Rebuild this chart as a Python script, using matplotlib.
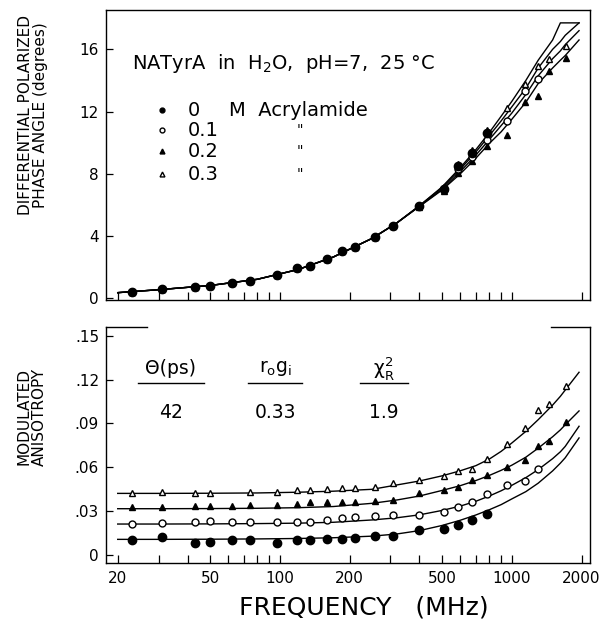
import numpy as np
import matplotlib
matplotlib.use("Agg")
import matplotlib.pyplot as plt
from matplotlib.ticker import NullFormatter, FixedLocator

plt.rcParams['font.family'] = ['DejaVu Sans']
plt.rcParams['mathtext.default'] = 'regular'

nan = np.nan

# measurement frequencies (MHz)
freq = [23, 31, 43, 50, 62, 74, 97, 119, 135, 159, 185, 211, 257, 309, 398,
        510, 584, 674, 782, 950, 1138, 1298, 1440, 1706]

# top panel: differential polarized phase angle (degrees)
phase_00 = [0.43, 0.58, 0.75, 0.82, 1.01, 1.14, 1.48, 1.95, 2.10, 2.55, 3.05, 3.32, 3.95, 4.62, 5.95,
            7.00, 8.50, 9.35, 10.6, nan, nan, nan, nan, nan]
phase_01 = [0.43, 0.58, 0.75, 0.82, 1.01, 1.14, 1.48, 1.95, 2.10, 2.55, 3.05, 3.32, 3.95, 4.62, 5.90,
            6.95, 8.30, 9.10, 10.2, 11.4, 13.3, 14.1, nan, nan]
phase_02 = [0.43, 0.58, 0.75, 0.82, 1.01, 1.14, 1.48, 1.95, 2.10, 2.55, 3.05, 3.32, 3.95, 4.62, 5.85,
            6.90, 8.05, 8.85, 9.80, 10.5, 12.6, 13.0, 14.6, 15.45]
phase_03 = [0.43, 0.58, 0.75, 0.82, nan, 1.14, 1.48, 1.95, 2.10, 2.55, 3.05, 3.32, 3.95, 4.70, 6.00,
            7.15, 8.60, 9.55, 10.8, 12.2, 13.75, 14.9, 15.35, 16.2]

# bottom panel: modulated anisotropy
aniso_00 = [0.0098, 0.0121, 0.0080, 0.0084, 0.0103, 0.0103, 0.0080, 0.0103, 0.0103, 0.0107, 0.0107, 0.0116,
            0.0126, 0.0126, 0.0167, 0.0176, 0.0205, 0.0240, 0.0281, nan, nan, nan, nan, nan]
aniso_01 = [0.0212, 0.0217, 0.0221, 0.0233, 0.0221, 0.0224, 0.0221, 0.0226, 0.0226, 0.0240, 0.0251, 0.0256,
            0.0263, 0.0269, 0.0272, 0.0292, 0.0324, 0.0358, 0.0418, 0.0479, 0.0507, 0.0587, nan, nan]
aniso_02 = [0.0326, 0.0326, 0.0336, 0.0331, 0.0336, 0.0340, 0.0342, 0.0349, 0.0358, 0.0361, 0.0358, 0.0361,
            0.0365, 0.0372, 0.0422, 0.0445, 0.0461, 0.0509, 0.0543, 0.0598, 0.0651, 0.0742, 0.0776, 0.0906]
aniso_03 = [0.0422, 0.0427, 0.0422, 0.0422, nan, 0.0427, 0.0427, 0.0441, 0.0441, 0.0450, 0.0454, 0.0454,
            0.0463, 0.0491, 0.0509, 0.0537, 0.0571, 0.0587, 0.0655, 0.0760, 0.0868, 0.0993, 0.1032, 0.1157]

# fitted curves
fit_freq = [20, 30, 50, 80, 120, 170, 250, 320, 400, 500, 600, 700, 800, 900, 1000,
            1150, 1300, 1500, 1620, 1700, 1950]
fit_phase_a = [0.36, 0.55, 0.82, 1.22, 1.85, 2.65, 3.85, 4.85, 5.95, 7.15, 8.40, 9.55, 10.65, 11.7, 12.65,
               14.0, 15.3, 16.6, 17.7, 17.7, 17.7]
fit_phase_b = [0.36, 0.55, 0.82, 1.22, 1.85, 2.65, 3.85, 4.85, 5.95, 7.10, 8.30, 9.40, 10.45, 11.4, 12.3,
               13.5, 14.8, 16.0, 16.5, 16.9, 17.7]
fit_phase_c = [0.36, 0.55, 0.82, 1.22, 1.85, 2.65, 3.85, 4.85, 5.92, 7.00, 8.15, 9.20, 10.2, 11.1, 11.9,
               13.1, 14.3, 15.4, 15.9, 16.3, 17.2]
fit_phase_d = [0.36, 0.55, 0.82, 1.22, 1.85, 2.65, 3.85, 4.85, 5.90, 6.95, 8.00, 9.00, 9.95, 10.7, 11.5,
               12.6, 13.8, 14.8, 15.3, 15.6, 16.6]

fit_aniso_00 = [0.0105, 0.0105, 0.0106, 0.0108, 0.0111, 0.0116, 0.0127, 0.0142, 0.0165, 0.0200, 0.0236, 0.0272,
                0.0308, 0.0343, 0.0382, 0.0432, 0.0490, 0.0574, 0.0627, 0.0664, 0.0800]
fit_aniso_01 = [0.0210, 0.0210, 0.0211, 0.0213, 0.0216, 0.0222, 0.0238, 0.0253, 0.0273, 0.0303, 0.0333, 0.0366,
                0.0402, 0.0438, 0.0475, 0.0528, 0.0583, 0.0658, 0.0705, 0.0742, 0.0880]
fit_aniso_02 = [0.0315, 0.0315, 0.0316, 0.0318, 0.0322, 0.0330, 0.0352, 0.0375, 0.0402, 0.0440, 0.0473, 0.0508,
                0.0543, 0.0578, 0.0613, 0.0668, 0.0730, 0.0808, 0.0855, 0.0890, 0.0985]
fit_aniso_03 = [0.0420, 0.0420, 0.0421, 0.0423, 0.0428, 0.0435, 0.0448, 0.0478, 0.0505, 0.0540, 0.0575, 0.0610,
                0.0655, 0.0708, 0.0765, 0.0845, 0.0925, 0.1025, 0.1085, 0.1128, 0.1250]

major_x = [20, 50, 100, 200, 500, 1000, 2000]
minor_x = [30, 40, 60, 70, 80, 90, 300, 400, 600, 700, 800, 900]

fig = plt.figure(figsize=(6.14, 6.23), dpi=100)
ax1 = fig.add_axes([0.1726, 0.5185, 0.788, 0.4655])
ax2 = fig.add_axes([0.1726, 0.0963, 0.788, 0.3788])

for ax in (ax1, ax2):
    ax.set_xscale('log')
    ax.set_xlim(17.8, 2170)
    ax.xaxis.set_major_locator(FixedLocator(major_x))
    ax.xaxis.set_minor_locator(FixedLocator(minor_x))
    ax.xaxis.set_minor_formatter(NullFormatter())
    ax.tick_params(axis='x', which='both', direction='in', length=6, width=0.9, labelsize=11, pad=6)
    ax.tick_params(axis='y', direction='in', length=5, width=0.9, labelsize=11, pad=5)
    for s in ax.spines.values():
        s.set_linewidth(1.0)

k = 'black'
ms = 5
# top panel
for y in (fit_phase_a, fit_phase_b, fit_phase_c, fit_phase_d):
    ax1.plot(fit_freq, y, color=k, lw=1.0)
ax1.plot(freq, phase_03, '^', mfc='white', mec=k, mew=1.0, ms=ms, ls='none')
ax1.plot(freq, phase_02, '^', color=k, ms=ms, ls='none')
ax1.plot(freq, phase_01, 'o', mfc='white', mec=k, mew=1.0, ms=ms, ls='none')
ax1.plot(freq, phase_00, 'o', color=k, ms=ms + 1, ls='none')
ax1.set_ylim(-0.11, 18.53)
ax1.set_yticks([0, 4, 8, 12, 16])
ax1.xaxis.set_major_formatter(NullFormatter())
fig.text(0.054, 0.815, 'DIFFERENTIAL POLARIZED\nPHASE ANGLE (degrees)', rotation=90,
         fontsize=11, linespacing=1.05, ha='center', va='center')

ax1.text(0.054, 0.817, 'NATyrA  in  H$_2$O,  pH=7,  25 °C', transform=ax1.transAxes,
         fontsize=14, va='center', ha='left')
leg_y = [0.655, 0.586, 0.512, 0.434]
leg_lbl = ['0', '0.1', '0.2', '0.3']
leg_style = [dict(marker='o', color=k), dict(marker='o', mfc='white', mec=k),
             dict(marker='^', color=k), dict(marker='^', mfc='white', mec=k)]
for yy, lab, st in zip(leg_y, leg_lbl, leg_style):
    ax1.plot([0.115], [yy], transform=ax1.transAxes, ms=3.5, ls='none', **st)
    ax1.text(0.168, yy, lab, transform=ax1.transAxes, fontsize=14, va='center', ha='left')
    if lab != '0':
        ax1.text(0.40, yy, '"', transform=ax1.transAxes, fontsize=10, va='center', ha='center')
ax1.text(0.255, leg_y[0], 'M  Acrylamide', transform=ax1.transAxes, fontsize=14, va='center', ha='left')

# bottom panel
for y in (fit_aniso_00, fit_aniso_01, fit_aniso_02, fit_aniso_03):
    ax2.plot(fit_freq, y, color=k, lw=1.0)
ax2.plot(freq, aniso_03, '^', mfc='white', mec=k, mew=1.0, ms=ms, ls='none')
ax2.plot(freq, aniso_02, '^', color=k, ms=ms, ls='none')
ax2.plot(freq, aniso_01, 'o', mfc='white', mec=k, mew=1.0, ms=ms, ls='none')
ax2.plot(freq, aniso_00, 'o', color=k, ms=ms + 1, ls='none')
ax2.set_ylim(-0.0057, 0.156)
ax2.set_yticks([0, 0.03, 0.06, 0.09, 0.12, 0.15])
ax2.set_yticklabels(['0', '.03', '.06', '.09', '.12', '.15'])
ax2.set_xticklabels(['20', '50', '100', '200', '500', '1000', '2000'])
fig.text(0.052, 0.331, 'MODULATED\nANISOTROPY', rotation=90,
         fontsize=11, linespacing=1.05, ha='center', va='center')
fig.text(0.592, 0.025, 'FREQUENCY   (MHz)', fontsize=18, ha='center', va='center')

# broken top frame of the lower panel
ax2.spines['top'].set_visible(False)
ax2.plot([0, 0.085], [1, 1], transform=ax2.transAxes, color=k, lw=1.0, clip_on=False)
ax2.plot([0.92, 1], [1, 1], transform=ax2.transAxes, color=k, lw=1.0, clip_on=False)

heads = ['Θ(ps)', 'r$_o$g$_i$', '$χ^2_R$']
vals = ['42', '0.33', '1.9']
cx = [0.134, 0.350, 0.575]
half = [0.068, 0.056, 0.050]
for h, v, x, hw in zip(heads, vals, cx, half):
    ax2.text(x, 0.826, h, transform=ax2.transAxes, fontsize=13.5, ha='center', va='center')
    ax2.plot([x - hw, x + hw], [0.763, 0.763], transform=ax2.transAxes, color=k, lw=1.0)
    ax2.text(x, 0.636, v, transform=ax2.transAxes, fontsize=13.5, ha='center', va='center')

fig.savefig('out.png', dpi=100)
